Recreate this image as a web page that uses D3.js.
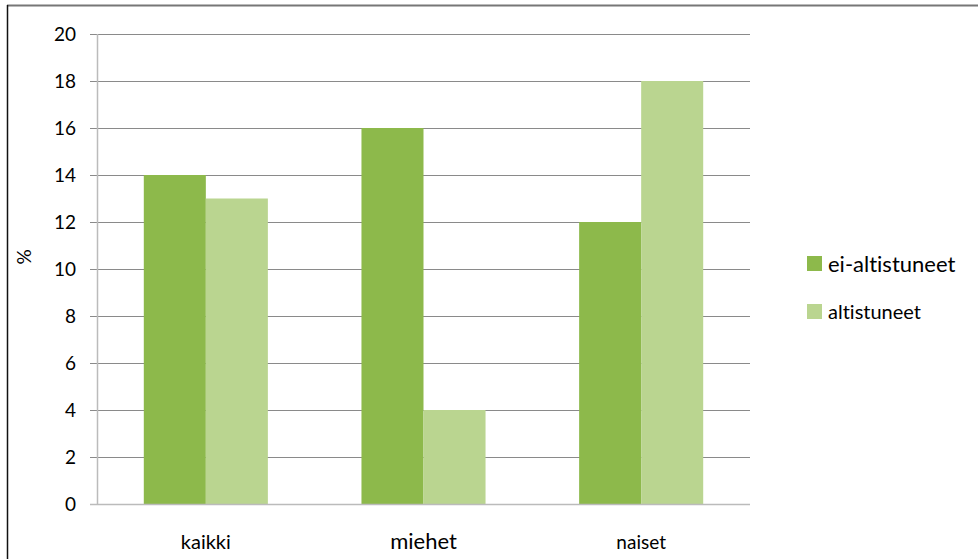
<!DOCTYPE html>
<html><head><meta charset="utf-8">
<script src="https://cdn.jsdelivr.net/npm/d3@7"></script>
<style>body{margin:0;background:#fff}svg{display:block}text{font-family:Lato,"Open Sans",sans-serif;fill:#000;font-variant-ligatures:none;font-feature-settings:"liga" 0}</style>
</head><body>
<script>
const categories = ["kaikki","miehet","naiset"];
const seriesNames = ["ei-altistuneet","altistuneet"];
const eiAltistuneet = [14,16,12];
const altistuneet = [13,4,18];
const yTicks = [0,2,4,6,8,10,12,14,16,18,20];
const colors = ["#8db94b","#bad590"];

const W=978,H=559;
const svg=d3.select("body").append("svg").attr("width",W).attr("height",H);
// border
svg.append("line").attr("x1",7).attr("x2",W).attr("y1",5.5).attr("y2",5.5).attr("stroke","#777").attr("stroke-width",2);
svg.append("line").attr("x1",7.5).attr("x2",7.5).attr("y1",5).attr("y2",H).attr("stroke","#111").attr("stroke-width",1.5);

const x0=d3.scaleBand().domain(categories).range([97,750]).paddingInner(0.43).paddingOuter(0.215);
const x1=d3.scaleBand().domain(seriesNames).range([0,x0.bandwidth()]);
const y=d3.scaleLinear().domain([0,20]).range([504,34]);

// gridlines
svg.append("g").selectAll("line").data(yTicks.filter(d=>d>0)).join("line")
 .attr("x1",90).attr("x2",750).attr("y1",d=>Math.round(y(d))+0.5).attr("y2",d=>Math.round(y(d))+0.5)
 .attr("stroke","#8a8a8a").attr("stroke-width",1);

const data=categories.map((c,i)=>({c,vals:[eiAltistuneet[i],altistuneet[i]]}));
svg.append("g").selectAll("g").data(data).join("g")
 .attr("transform",d=>`translate(${x0(d.c)},0)`)
 .selectAll("rect").data(d=>d.vals.map((v,j)=>({v,s:seriesNames[j],j}))).join("rect")
 .attr("x",d=>x1(d.s)).attr("width",x1.bandwidth())
 .attr("y",d=>y(d.v)).attr("height",d=>y(0)-y(d.v)).attr("fill",d=>colors[d.j]);

// axes lines
svg.append("line").attr("x1",97.5).attr("x2",97.5).attr("y1",34).attr("y2",505).attr("stroke","#bbb").attr("stroke-width",1.5);
svg.append("line").attr("x1",90).attr("x2",750).attr("y1",504.5).attr("y2",504.5).attr("stroke","#bbb").attr("stroke-width",1.5);

// y tick labels
svg.append("g").selectAll("text").data(yTicks).join("text")
 .attr("x",76).attr("y",d=>y(d)).attr("dy","0.36em").attr("text-anchor","end")
 .attr("font-size",19).text(d=>d);

// category labels
const catSizes=[20,22,19];
svg.append("g").selectAll("text").data(categories).join("text")
 .attr("x",d=>x0(d)+x0.bandwidth()/2).attr("y",549).attr("text-anchor","middle")
 .attr("font-size",(d,i)=>catSizes[i]).text(d=>d);

// y label
svg.append("text").attr("transform","translate(31,257) rotate(-90)").attr("text-anchor","middle")
 .attr("font-size",19).text("%");

// legend
const legY=[256,304], legSizes=[22,20];
const lg=svg.append("g").selectAll("g").data(seriesNames).join("g").attr("transform",(d,i)=>`translate(807,${legY[i]})`);
lg.append("rect").attr("width",15).attr("height",15).attr("fill",(d,i)=>colors[i]);
lg.append("text").attr("x",21).attr("y",8).attr("dy","0.36em").attr("font-size",(d,i)=>legSizes[i]).text(d=>d);
</script>
</body></html>
